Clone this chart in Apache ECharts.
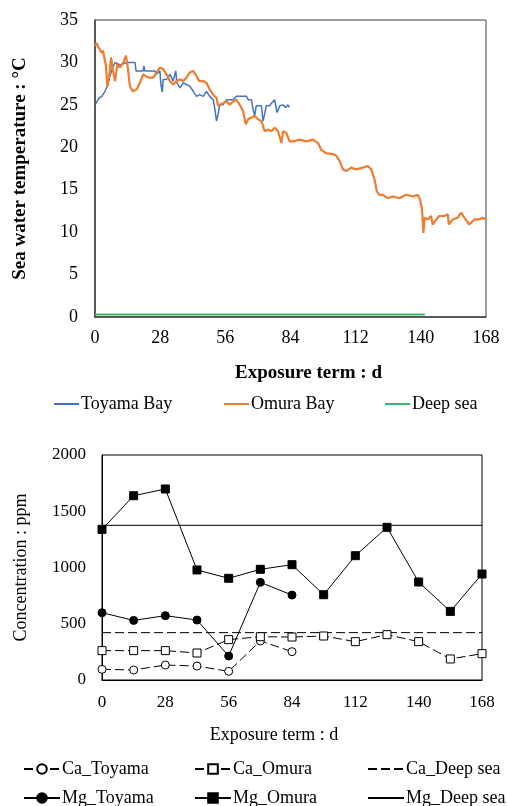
<!DOCTYPE html>
<html>
<head>
<meta charset="utf-8">
<script src="https://cdn.jsdelivr.net/npm/echarts@6/dist/echarts.min.js"></script>
<style>
html,body{margin:0;padding:0;background:#fff;}
#chart{width:507px;height:806px;}
</style>
</head>
<body>
<div id="chart"></div>
<script>
// ---------- Top chart: sea water temperature ----------
const dayTicks = [0, 28, 56, 84, 112, 140, 168];

const omuraDays = [0,0.7,1.4,2.1,2.9,3.4,3.9,4.7,5.3,6.1,6.9,7.6,8.6,9.6,10.7,12.2,13.3,14,15,16.2,17.9,19.3,20.7,22.9,25,26.5,27.9,29.3,30.7,32.2,33.6,35,36.5,37.9,39.3,40.7,42.2,43.6,44.8,46.5,47.9,49.3,50.8,52.2,52.9,53.6,55,56.5,57.9,59.3,60.8,62.2,63.6,64.8,65.8,67.2,68.6,70,71.5,72.9,74.3,75.8,77.2,78.6,80.1,80.8,82.2,83.6,85.1,87.9,90.8,93.7,95.8,97.2,99.4,102.2,103.7,105.1,106.5,107.9,110.1,112.2,115.1,117.2,118.7,120.1,121.1,122.2,123.7,125.8,127.9,130.8,133.7,136.5,138.7,139.7,140.5,141.1,141.6,143,144.4,145.1,146.6,148,150.1,151.6,152,153.7,155.8,157.3,158.7,160.8,163,165.1,166.6,168];
const omuraTemp = [31.9,32.3,31.8,31.5,31.1,31.4,31.6,29.6,27.2,28.4,30.6,29.2,27.8,29.8,29.4,30.0,30.8,29.6,27.2,26.6,26.8,27.6,28.6,28.2,28.2,28.8,29.4,29.2,28.6,27.8,27.4,27.8,28.0,27.8,28.2,28.8,29.0,28.4,27.8,27.8,27.6,26.8,26.2,25.8,24.9,25.0,25.2,25.4,25.0,25.4,25.6,25.0,24.3,22.7,23.3,23.5,23.7,23.3,23.1,21.9,22.1,21.9,22.3,21.9,20.5,21.9,21.7,20.7,20.7,20.9,20.7,20.9,20.5,19.7,19.3,19.2,19.0,18.4,17.4,17.2,17.6,17.4,17.6,17.8,17.4,16.2,14.8,14.4,14.4,14.0,14.2,14.0,14.4,14.2,14.4,13.8,12.7,9.9,11.7,11.5,11.9,10.9,11.5,11.9,11.9,12.1,10.9,11.5,11.7,12.3,11.7,10.9,11.5,11.5,11.7,11.5];

const toyamaDays = [0,0.7,1.7,2.9,4.3,5.3,6.4,7.6,8.6,10.7,13.6,17.2,17.6,20.7,21.0,21.4,25.7,26.4,27.9,28.3,28.9,29.3,30.7,32.2,33.6,34.7,35.2,36.5,37.9,39.3,40.7,42.2,43.6,45,46.5,47.9,49.3,50.8,51.5,52.2,52.9,53.6,55,56.5,59.3,60.8,65.1,65.8,67.2,67.9,68.6,69.3,71.5,72.2,72.9,73.6,75,75.8,77.2,78.2,79.4,80.8,81.9,82.9,83.6];
const toyamaTemp = [25.0,25.2,25.8,26.0,26.6,27.2,28.4,29.4,30.0,29.7,30.0,30.0,29.0,29.0,29.6,29.0,29.0,28.6,29.0,27.4,26.5,28.0,28.0,28.6,27.8,29.0,27.6,27.0,27.6,27.4,27.2,26.6,26.0,26.2,26.0,26.6,26.0,25.6,24.5,23.1,23.9,25.0,25.0,25.6,25.6,26.0,26.0,25.6,25.6,24.5,23.7,24.9,24.9,23.1,23.9,24.9,24.9,25.2,25.6,24.1,24.9,25.0,24.7,25.0,24.7];

const deepDays = [0, 141.7];
const deepTemp = [0.3, 0.3];

// ---------- Bottom chart: concentration ----------
const sampleDays = [0, 14, 28, 42, 56, 70, 84, 98, 112, 126, 140, 154, 168];
const caToyama = [95, 89, 133, 124, 77, 347, 252];
const caOmura = [261, 261, 261, 240, 359, 385, 382, 391, 341, 403, 341, 187, 234];
const caDeepSea = 421;
const mgToyama = [598, 530, 572, 533, 213, 868, 755];
const mgOmura = [1339, 1638, 1698, 978, 904, 984, 1025, 758, 1105, 1357, 871, 610, 942];
const mgDeepSea = 1375;
const concTicks = [0, 500, 1000, 1500, 2000];

const pair = (xs, ys) => ys.map((v, i) => [xs[i], v]);

const FONT = '"Liberation Serif", "Times New Roman", serif';
const axisCol = '#404040';

const chart = echarts.init(document.getElementById('chart'), null, {renderer: 'canvas'});

function mkLegend(name, left, top, width, hideSymbol) {
  const l = {
    data: [name], left: left, top: top, padding: 0,
    itemWidth: width, itemHeight: 12, itemGap: 5,
    textStyle: {fontFamily: FONT, fontSize: 18, color: '#000', padding: [0, 0, 0, -3]},
    selectedMode: false
  };
  if (hideSymbol) l.itemStyle = {opacity: 0};
  return l;
}

const option = {
  animation: false,
  backgroundColor: '#fff',
  grid: [
    {left: 95, right: 21, top: 20, bottom: 489, show: true, borderColor: axisCol, borderWidth: 1, containLabel: false},
    {left: 102, right: 25, top: 455, bottom: 126, show: true, borderColor: '#000', borderWidth: 1, containLabel: false}
  ],
  xAxis: [
    {
      type: 'value', gridIndex: 0, min: dayTicks[0], max: dayTicks[dayTicks.length - 1], interval: 28,
      name: 'Exposure term : d', nameLocation: 'middle', nameGap: 47,
      nameTextStyle: {fontFamily: FONT, fontSize: 19, fontWeight: 'bold', color: '#000', padding: [0, 0, 0, 36]},
      axisLine: {show: true, lineStyle: {color: axisCol, width: 1.5}},
      axisTick: {show: false}, splitLine: {show: false},
      axisLabel: {fontFamily: FONT, fontSize: 18, color: '#000', margin: 12}
    },
    {
      type: 'value', gridIndex: 1, min: 0, max: 168, interval: 28,
      name: 'Exposure term : d', nameLocation: 'middle', nameGap: 46,
      nameTextStyle: {fontFamily: FONT, fontSize: 18, color: '#000', padding: [0, 36, 0, 0]},
      axisLine: {show: true, lineStyle: {color: '#000', width: 1}},
      axisTick: {show: false}, splitLine: {show: false},
      axisLabel: {fontFamily: FONT, fontSize: 17, color: '#000', margin: 14}
    }
  ],
  yAxis: [
    {
      type: 'value', gridIndex: 0, min: 0, max: 35, interval: 5,
      name: 'Sea water temperature : °C', nameLocation: 'middle', nameGap: 65,
      nameTextStyle: {fontFamily: FONT, fontSize: 19, fontWeight: 'bold', color: '#000'},
      axisLine: {show: true, lineStyle: {color: axisCol, width: 1.5}},
      axisTick: {show: false}, splitLine: {show: false},
      axisLabel: {fontFamily: FONT, fontSize: 18, color: '#000', margin: 17}
    },
    {
      type: 'value', gridIndex: 1, min: concTicks[0], max: concTicks[concTicks.length - 1], interval: 500,
      name: 'Concentration : ppm', nameLocation: 'middle', nameGap: 72,
      nameTextStyle: {fontFamily: FONT, fontSize: 18, color: '#000'},
      axisLine: {show: true, lineStyle: {color: '#000', width: 1}},
      axisTick: {show: false}, splitLine: {show: false},
      axisLabel: {fontFamily: FONT, fontSize: 17, color: '#000', margin: 16, formatter: v => String(v)}
    }
  ],
  legend: [
    mkLegend('Toyama Bay', 53, 395, 25, true),
    mkLegend('Omura Bay', 223, 395, 25, true),
    mkLegend('Deep sea', 384, 395, 25, true),
    mkLegend('Ca_Toyama', 23, 760, 36, false),
    mkLegend('Mg_Toyama', 23, 789, 36, false),
    mkLegend('Ca_Omura', 194, 760, 36, false),
    mkLegend('Mg_Omura', 194, 789, 36, false),
    mkLegend('Ca_Deep sea', 367, 760, 36, true),
    mkLegend('Mg_Deep sea', 367, 789, 36, true)
  ],
  series: [
    {
      name: 'Toyama Bay', type: 'line', xAxisIndex: 0, yAxisIndex: 0, symbol: 'none',
      data: pair(toyamaDays, toyamaTemp), lineStyle: {color: '#4472C4', width: 1.5}, itemStyle: {color: '#4472C4'}, z: 3
    },
    {
      name: 'Omura Bay', type: 'line', xAxisIndex: 0, yAxisIndex: 0, symbol: 'none',
      data: pair(omuraDays, omuraTemp), lineStyle: {color: '#ED7D31', width: 2.2}, itemStyle: {color: '#ED7D31'}, z: 4
    },
    {
      name: 'Deep sea', type: 'line', xAxisIndex: 0, yAxisIndex: 0, symbol: 'none',
      data: pair(deepDays, deepTemp), lineStyle: {color: '#3DB46D', width: 2}, itemStyle: {color: '#3DB46D'}
    },
    {
      name: 'Ca_Toyama', type: 'line', xAxisIndex: 1, yAxisIndex: 1, symbol: 'circle', symbolSize: 8,
      data: pair(sampleDays, caToyama),
      lineStyle: {color: '#000', width: 1, type: [9, 4]},
      itemStyle: {color: '#fff', borderColor: '#000', borderWidth: 1}, z: 5
    },
    {
      name: 'Ca_Omura', type: 'line', xAxisIndex: 1, yAxisIndex: 1, symbol: 'rect', symbolSize: 8,
      data: pair(sampleDays, caOmura),
      lineStyle: {color: '#000', width: 1, type: [9, 4]},
      itemStyle: {color: '#fff', borderColor: '#000', borderWidth: 1}, z: 5
    },
    {
      name: 'Ca_Deep sea', type: 'line', xAxisIndex: 1, yAxisIndex: 1, symbol: 'none',
      data: [[0, caDeepSea], [168, caDeepSea]],
      lineStyle: {color: '#000', width: 1, type: [9, 4]}, itemStyle: {color: '#000'}
    },
    {
      name: 'Mg_Toyama', type: 'line', xAxisIndex: 1, yAxisIndex: 1, symbol: 'circle', symbolSize: 8,
      data: pair(sampleDays, mgToyama),
      lineStyle: {color: '#000', width: 1},
      itemStyle: {color: '#000', borderColor: '#000', borderWidth: 1}, z: 5
    },
    {
      name: 'Mg_Omura', type: 'line', xAxisIndex: 1, yAxisIndex: 1, symbol: 'rect', symbolSize: 8,
      data: pair(sampleDays, mgOmura),
      lineStyle: {color: '#000', width: 1},
      itemStyle: {color: '#000', borderColor: '#000', borderWidth: 1}, z: 5
    },
    {
      name: 'Mg_Deep sea', type: 'line', xAxisIndex: 1, yAxisIndex: 1, symbol: 'none',
      data: [[0, mgDeepSea], [168, mgDeepSea]],
      lineStyle: {color: '#000', width: 1}, itemStyle: {color: '#000'}
    }
  ]
};

chart.setOption(option);
</script>
</body>
</html>
